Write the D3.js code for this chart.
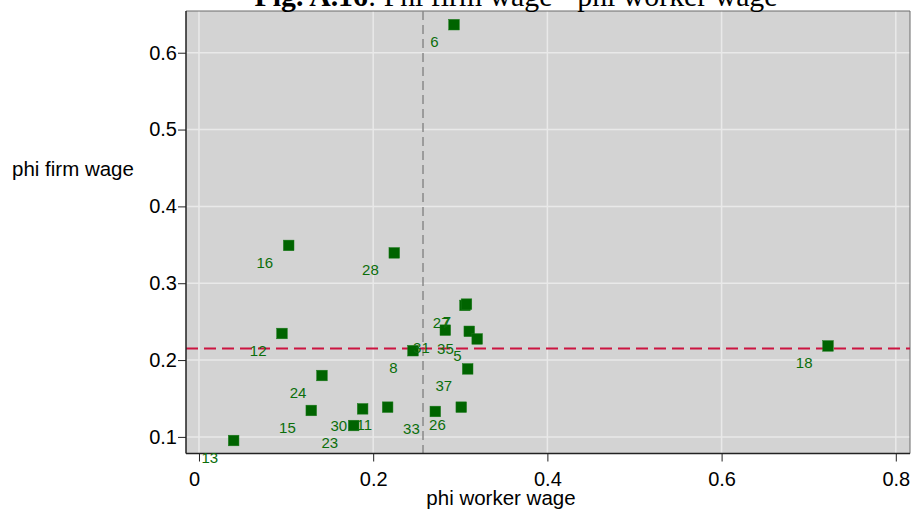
<!DOCTYPE html>
<html>
<head>
<meta charset="utf-8">
<script src="https://cdn.jsdelivr.net/npm/d3@7"></script>
<style>
  html, body { margin: 0; padding: 0; background: #ffffff; }
  svg { display: block; }
</style>
</head>
<body>
<svg id="chart" width="912" height="514"></svg>
<script>
// ---- data ----
const labels = ["6", "16", "28", "27", "7", "31", "35", "5", "12", "8", "18", "24", "37", "15", "30", "11", "26", "33", "23", "13"];
const phiWorker = [0.2928, 0.1030, 0.2242, 0.3054, 0.3071, 0.2828, 0.3103, 0.3194, 0.0953, 0.2457, 0.7222, 0.1412, 0.3085, 0.1289, 0.1879, 0.2166, 0.3011, 0.2713, 0.1776, 0.0398];
const phiFirm   = [0.6365, 0.3492, 0.3395, 0.2711, 0.2728, 0.2389, 0.2374, 0.2275, 0.2346, 0.2122, 0.2184, 0.1799, 0.1885, 0.1344, 0.1365, 0.1387, 0.1387, 0.1331, 0.1148, 0.0953];
const xTicks = [0, 0.2, 0.4, 0.6, 0.8];
const yTicks = [0.1, 0.2, 0.3, 0.4, 0.5, 0.6];
const meanWorker = 0.2572;
const meanFirm = 0.2151;
const titleBold = "Fig. A.16";
const titleRest = ": Phi firm wage - phi worker wage";
const xTitle = "phi worker wage";
const yTitle = "phi firm wage";

const points = labels.map((l, i) => ({ label: l, x: phiWorker[i], y: phiFirm[i] }));

// ---- layout ----
const svg = d3.select("#chart");
const plot = { left: 186, right: 910, top: 11, bottom: 453.5 };

const x = d3.scaleLinear().domain([-0.0149, 0.8163]).range([plot.left, plot.right]);
const y = d3.scaleLinear().domain([0.0784, 0.6543]).range([plot.bottom, plot.top]);

// plot background
svg.append("rect")
  .attr("x", plot.left).attr("y", plot.top)
  .attr("width", plot.right - plot.left).attr("height", plot.bottom - plot.top)
  .attr("fill", "#d3d3d3");

// grid
svg.append("g").selectAll("line").data(yTicks).join("line")
  .attr("x1", plot.left).attr("x2", plot.right)
  .attr("y1", d => y(d)).attr("y2", d => y(d))
  .attr("stroke", "#e9e9e9").attr("stroke-width", 1.5);
svg.append("g").selectAll("line").data(xTicks).join("line")
  .attr("y1", plot.top).attr("y2", plot.bottom)
  .attr("x1", d => x(d)).attr("x2", d => x(d))
  .attr("stroke", "#e9e9e9").attr("stroke-width", 1.5);

// frame top/right
svg.append("path")
  .attr("d", `M${plot.left},${plot.top}H${plot.right}V${plot.bottom}`)
  .attr("fill", "none").attr("stroke", "#6a6a6a").attr("stroke-width", 1);

// reference lines
svg.append("line")
  .attr("x1", x(meanWorker)).attr("x2", x(meanWorker))
  .attr("y1", plot.top).attr("y2", plot.bottom)
  .attr("stroke", "#8a8a8a").attr("stroke-width", 1.5)
  .attr("stroke-dasharray", "9,5");
svg.append("line")
  .attr("x1", plot.left).attr("x2", plot.right)
  .attr("y1", y(meanFirm)).attr("y2", y(meanFirm))
  .attr("stroke", "#cc1440").attr("stroke-width", 2)
  .attr("stroke-dasharray", "12,6");

// axes
const xAxis = d3.axisBottom(x).tickValues(xTicks).tickSize(8).tickPadding(10)
  .tickFormat(d => d === 0 ? "0" : d3.format(".1f")(d));
const gx = svg.append("g").attr("transform", `translate(0,${plot.bottom})`).call(xAxis);
gx.select(".domain").attr("d", `M${plot.left},0H${plot.right}`).attr("stroke", "#222").attr("stroke-width", 1.5);
gx.selectAll(".tick line").attr("stroke", "#222").attr("stroke-width", 1);
gx.selectAll(".tick text").attr("font-family", "Liberation Sans, Arial, sans-serif").attr("font-size", 20).attr("fill", "#000")
  .attr("dx", d => d === 0 ? -5 : 0);

const yAxis = d3.axisLeft(y).tickValues(yTicks).tickSize(8).tickPadding(1)
  .tickFormat(d3.format(".1f"));
const gy = svg.append("g").attr("transform", `translate(${plot.left},0)`).call(yAxis);
gy.select(".domain").attr("d", `M0,${plot.top}V${plot.bottom}`).attr("stroke", "#222").attr("stroke-width", 1.5);
gy.selectAll(".tick line").attr("stroke", "#222").attr("stroke-width", 1);
gy.selectAll(".tick text").attr("font-family", "Liberation Sans, Arial, sans-serif").attr("font-size", 20).attr("fill", "#000");

// markers
svg.append("g").selectAll("rect").data(points).join("rect")
  .attr("x", d => x(d.x) - 5.3).attr("y", d => y(d.y) - 5.3)
  .attr("width", 10.6).attr("height", 10.6)
  .attr("fill", "#006400").attr("stroke", "#1a7a1a").attr("stroke-width", 0.5);

// marker labels
svg.append("g").selectAll("text").data(points).join("text")
  .attr("x", d => x(d.x) - 15.5).attr("y", d => y(d.y) + 22.5)
  .attr("text-anchor", "end")
  .attr("font-family", "Liberation Sans, Arial, sans-serif").attr("font-size", 15)
  .attr("fill", "#0b6e0b")
  .text(d => d.label);

// axis titles
svg.append("text")
  .attr("x", 501).attr("y", 504.5)
  .attr("text-anchor", "middle")
  .attr("font-family", "Liberation Sans, Arial, sans-serif").attr("font-size", 20.5)
  .attr("fill", "#000").text(xTitle);
svg.append("text")
  .attr("x", 12).attr("y", 176)
  .attr("font-family", "Liberation Sans, Arial, sans-serif").attr("font-size", 20.5)
  .attr("fill", "#000").text(yTitle);

// title
const t = svg.append("text")
  .attr("x", 516).attr("y", 6)
  .attr("text-anchor", "middle")
  .attr("font-family", "Liberation Serif, Times New Roman, serif").attr("font-size", 29.8)
  .attr("fill", "#000");
t.append("tspan").attr("font-weight", "bold").text(titleBold);
t.append("tspan").text(titleRest);
</script>
</body>
</html>
